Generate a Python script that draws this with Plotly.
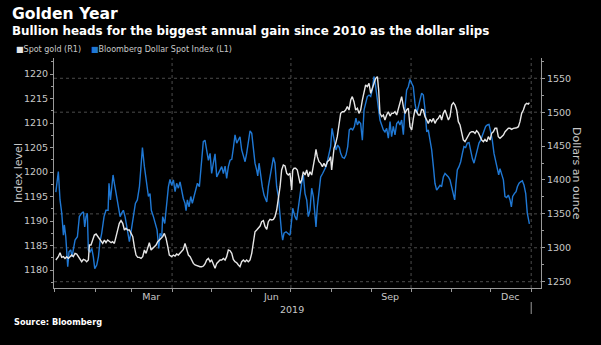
import pandas as pd
import plotly.graph_objects as go

BASE = pd.Timestamp("2019-01-01")

# Bloomberg Dollar Spot Index (left axis): days since 1 Jan 2019, index level
dxy_days = [1, 2.9, 4.2, 5.5, 6.8, 7.5, 8.6, 9.3, 10.1, 11.1, 12.4, 13.4, 14.4, 15.7, 17.5, 19.0,
            20.8, 22.1, 23.1, 24.1, 25.1, 25.9, 27.2, 28.5, 29.7, 30.8, 32.3, 33.6, 34.8, 36.1,
            37.9, 39.4, 41.0, 41.7, 42.8, 43.8, 44.8, 45.8, 47.1, 48.4, 50.2, 51.4, 52.7, 54.0,
            55.8, 57.3, 58.8, 60.4, 61.9, 63.4, 65.0, 66.0, 67.3, 68.8, 70.6, 71.9, 73.1, 74.1,
            75.7, 77.0, 78.5, 79.8, 80.8, 82.1, 82.8, 84.4, 85.9, 87.2, 88.4, 89.7, 91.0, 92.3,
            93.5, 94.8, 96.1, 97.4, 98.6, 99.9, 100.7, 101.7, 103.0, 104.3, 105.5, 106.8, 108.3,
            109.4, 110.9, 112.2, 113.9, 115.2, 116.5, 117.8, 119.1, 120.3, 121.6, 122.9, 124.2,
            125.4, 126.7, 128.0, 129.3, 130.6, 131.8, 133.1, 134.4, 135.7, 136.9, 138.2, 139.5,
            140.8, 142.0, 143.3, 144.6, 145.9, 147.1, 148.4, 149.7, 151.0, 152.2, 153.5, 154.8,
            155.6, 156.6, 157.9, 159.1, 160.4, 161.7, 162.5, 163.7, 165.0, 166.3, 167.6, 168.8,
            170.1, 171.4, 172.7, 173.9, 174.7, 175.7, 177.3, 179.0, 180.3, 181.6, 182.4, 183.4,
            184.1, 185.4, 186.7, 188.0, 189.2, 190.5, 191.8, 193.1, 194.3, 195.6, 196.9, 198.2,
            199.4, 200.2, 201.2, 202.5, 203.8, 205.3, 206.6, 207.9, 209.1, 210.4, 211.4, 212.5,
            213.5, 214.5, 215.5, 216.8, 218.1, 219.1, 220.4, 221.9, 223.2, 224.5, 225.7, 227.0,
            228.3, 229.6, 230.8, 231.9, 233.1, 234.4, 235.7, 237.0, 238.2, 239.5, 240.8, 242.1,
            243.3, 244.6, 245.6, 246.7, 247.9, 249.2, 250.5, 251.8, 253.0, 254.3, 255.6, 256.9,
            258.1, 259.4, 260.7, 262.0, 263.3, 264.5, 265.8, 267.1, 268.4, 269.6, 270.9, 272.2,
            273.5, 274.7, 276.0, 277.3, 278.6, 279.9, 281.1, 282.4, 283.7, 285.0, 286.2, 287.5,
            288.8, 290.1, 291.3, 292.6, 293.9, 295.2, 296.4, 297.7, 299.0, 300.3, 301.6, 302.8,
            304.1, 305.4, 306.4, 307.4, 308.4, 309.7, 311.0, 312.3, 313.5, 314.8, 316.1, 317.4,
            318.7, 319.9, 321.2, 322.5, 323.8, 325.0, 326.3, 327.6, 328.9, 330.1, 331.4, 332.7,
            334.0, 335.2, 336.5, 337.8, 339.1, 340.1, 341.1, 342.4, 343.7, 344.9, 346.2, 347.5,
            348.8, 349.8, 350.8, 352.1, 353.4, 354.4, 355.7, 356.9, 358.2, 359.5, 360.8, 362.0,
            363.6]
dxy_vals = [1195.9, 1200.1, 1194.3, 1191.6, 1187.1, 1189.2, 1186.8, 1182.7, 1180.7, 1183.7, 1184.1,
            1182.7, 1184.1, 1186.1, 1186.8, 1190.9, 1191.6, 1191.9, 1188.8, 1190.9, 1191.6, 1184.1,
            1183.7, 1184.4, 1182.7, 1180.3, 1181.0, 1182.7, 1185.8, 1187.5, 1190.9, 1192.2, 1192.2,
            1197.7, 1194.3, 1197.3, 1199.4, 1197.7, 1195.6, 1194.3, 1190.9, 1191.6, 1192.2, 1190.9,
            1188.2, 1185.8, 1188.2, 1191.6, 1193.6, 1194.3, 1197.0, 1200.4, 1205.0, 1201.1, 1197.0,
            1195.0, 1195.6, 1192.2, 1190.9, 1189.5, 1188.2, 1184.4, 1187.5, 1186.8, 1190.9, 1189.5,
            1193.6, 1197.0, 1198.5, 1197.3, 1198.4, 1196.0, 1197.7, 1196.7, 1198.0, 1196.0, 1194.6,
            1193.6, 1192.1, 1194.3, 1192.9, 1195.0, 1193.6, 1195.0, 1197.0, 1197.7, 1197.0, 1201.1,
            1206.2, 1206.5, 1204.5, 1202.4, 1203.8, 1199.7, 1201.8, 1203.7, 1199.0, 1199.7, 1200.4,
            1201.1, 1199.7, 1201.2, 1198.7, 1201.1, 1202.4, 1202.6, 1204.8, 1207.6, 1205.9, 1206.5,
            1207.2, 1204.5, 1203.5, 1202.1, 1203.8, 1206.5, 1208.4, 1207.9, 1205.2, 1201.8, 1200.4,
            1199.2, 1201.8, 1199.0, 1197.0, 1195.3, 1194.6, 1193.9, 1197.0, 1199.0, 1201.4, 1203.0,
            1201.8, 1197.0, 1195.0, 1190.2, 1187.5, 1186.1, 1187.5, 1187.8, 1187.5, 1187.1, 1190.2,
            1192.6, 1191.6, 1190.9, 1190.2, 1192.9, 1195.6, 1197.7, 1199.4, 1195.6, 1194.3, 1190.9,
            1192.2, 1196.7, 1195.0, 1191.6, 1188.8, 1192.9, 1195.6, 1199.0, 1199.7, 1200.4, 1201.1,
            1202.4, 1203.8, 1205.2, 1208.9, 1207.2, 1205.9, 1204.5, 1205.5, 1205.0, 1203.8, 1203.0,
            1202.8, 1203.5, 1205.2, 1208.6, 1208.9, 1208.6, 1209.3, 1211.0, 1209.6, 1210.3, 1209.9,
            1206.5, 1212.7, 1214.0, 1215.4, 1215.7, 1215.4, 1216.7, 1219.5, 1218.1, 1215.7, 1212.7,
            1210.6, 1209.6, 1208.6, 1208.2, 1208.9, 1206.9, 1210.3, 1207.2, 1209.3, 1207.6, 1209.9,
            1210.3, 1209.6, 1210.6, 1207.6, 1213.3, 1216.7, 1217.4, 1218.9, 1218.1, 1217.4, 1214.0,
            1212.0, 1213.3, 1214.7, 1216.1, 1215.7, 1212.7, 1208.2, 1208.6, 1206.5, 1204.5, 1201.1,
            1197.7, 1196.3, 1196.7, 1197.3, 1197.0, 1199.0, 1199.7, 1199.4, 1199.0, 1198.4, 1197.0,
            1195.6, 1194.3, 1197.7, 1200.4, 1201.1, 1202.1, 1203.8, 1205.2, 1205.0, 1205.9, 1206.0,
            1204.1, 1202.8, 1201.8, 1203.1, 1204.5, 1205.9, 1206.5, 1207.6, 1208.2, 1209.3, 1209.6,
            1209.7, 1208.2, 1206.5, 1203.8, 1202.4, 1200.7, 1199.4, 1200.7, 1199.4, 1198.4, 1195.0,
            1194.8, 1195.3, 1194.3, 1192.9, 1195.0, 1195.6, 1196.0, 1197.0, 1197.7, 1198.0, 1198.2,
            1197.3, 1195.6, 1191.6, 1189.4]

# Spot gold (right axis): days since 1 Jan 2019, dollars an ounce
gold_days = [1, 2.9, 4.2, 5.5, 6.8, 8.0, 9.3, 10.6, 11.9, 13.1, 14.4, 15.7, 17.0, 18.3, 19.5, 20.8,
             22.1, 23.4, 24.6, 25.9, 26.7, 27.9, 29.2, 30.5, 31.8, 33.1, 34.3, 35.6, 36.9, 38.2,
             39.4, 40.7, 42.0, 43.3, 44.5, 45.8, 47.1, 48.4, 49.6, 50.9, 52.2, 53.5, 54.7, 56.0,
             57.3, 58.6, 59.9, 61.1, 62.4, 63.7, 65.0, 66.2, 67.5, 68.8, 70.1, 71.3, 72.6, 73.9,
             75.2, 76.4, 77.7, 79.0, 80.3, 81.5, 82.8, 84.1, 85.4, 86.7, 87.9, 89.7, 91.0, 92.3,
             93.5, 94.8, 96.1, 97.4, 98.6, 99.9, 101.2, 102.5, 103.8, 105.0, 106.3, 107.6, 108.9,
             110.1, 111.4, 112.7, 114.0, 115.2, 116.5, 117.8, 119.1, 120.3, 121.6, 122.9, 124.2,
             125.4, 126.7, 128.0, 129.3, 130.6, 131.8, 133.1, 134.4, 135.7, 136.9, 138.2, 139.5,
             140.8, 142.0, 143.3, 144.6, 145.9, 147.1, 148.4, 149.7, 151.0, 152.2, 153.5, 154.8,
             156.1, 157.4, 158.6, 159.9, 161.2, 162.5, 163.7, 165.0, 166.3, 167.6, 168.8, 170.1,
             171.4, 172.7, 173.9, 175.2, 176.5, 177.8, 179.0, 180.3, 181.6, 182.4, 183.4, 184.6,
             185.9, 186.9, 188.0, 189.2, 190.5, 191.8, 193.1, 194.3, 195.6, 196.9, 198.2, 199.4,
             200.2, 201.2, 202.5, 203.8, 205.1, 206.3, 207.6, 208.9, 210.4, 211.4, 212.2, 213.0,
             214.0, 215.3, 216.5, 217.8, 219.1, 220.4, 221.6, 222.9, 224.2, 225.5, 226.8, 228.0,
             229.3, 230.6, 231.9, 233.1, 234.4, 235.7, 237.0, 238.2, 239.5, 240.8, 242.1, 243.3,
             244.6, 245.9, 247.2, 248.2, 249.2, 250.5, 251.8, 253.0, 254.3, 255.6, 256.9, 258.1,
             259.4, 260.7, 262.0, 263.3, 264.5, 265.8, 267.1, 268.4, 269.6, 270.9, 272.2, 273.5,
             274.7, 276.0, 277.3, 278.6, 279.9, 281.1, 282.4, 283.7, 285.0, 286.2, 287.5, 288.8,
             290.1, 291.3, 292.6, 293.9, 295.2, 296.4, 297.7, 299.0, 300.3, 301.6, 302.8, 304.1,
             305.4, 306.7, 307.9, 309.2, 310.5, 311.8, 313.0, 314.3, 315.6, 316.9, 318.1, 319.4,
             320.7, 322.0, 323.2, 324.5, 325.8, 327.1, 328.4, 329.6, 330.9, 332.2, 333.5, 334.7,
             336.0, 337.3, 338.6, 339.8, 341.1, 342.4, 343.7, 345.0, 346.2, 347.5, 348.8, 350.0,
             351.3, 352.6, 353.9, 355.2, 356.4, 357.7, 359.0, 360.3, 361.5, 362.8, 363.6]
gold_vals = [1282.0, 1286.9, 1292.8, 1285.9, 1286.9, 1284.4, 1286.9, 1284.4, 1286.9, 1289.3, 1286.9,
             1291.8, 1290.8, 1286.9, 1282.0, 1279.5, 1282.9, 1282.0, 1279.5, 1282.0, 1304.1, 1304.1,
             1311.5, 1318.8, 1320.3, 1316.4, 1312.4, 1309.0, 1306.5, 1311.5, 1307.5, 1311.5, 1309.0,
             1307.5, 1309.0, 1306.5, 1316.4, 1326.2, 1336.0, 1340.0, 1336.0, 1326.2, 1328.7, 1326.2,
             1326.2, 1321.3, 1316.4, 1301.6, 1289.3, 1285.9, 1285.9, 1284.4, 1286.9, 1296.7, 1291.8,
             1299.2, 1307.5, 1296.7, 1299.2, 1301.6, 1304.1, 1309.0, 1311.5, 1312.4, 1316.4, 1321.3,
             1313.9, 1301.6, 1289.3, 1286.9, 1289.3, 1287.9, 1290.8, 1289.3, 1291.8, 1294.2, 1297.7,
             1306.5, 1299.2, 1289.3, 1286.9, 1282.0, 1277.0, 1274.6, 1273.6, 1273.1, 1272.1, 1272.1,
             1273.1, 1276.1, 1282.0, 1284.4, 1279.5, 1282.0, 1277.0, 1269.7, 1277.0, 1279.5, 1282.0,
             1282.0, 1284.4, 1282.0, 1286.9, 1296.7, 1295.7, 1291.8, 1282.9, 1279.5, 1278.0, 1274.6,
             1272.1, 1279.5, 1282.0, 1279.5, 1282.0, 1279.5, 1282.0, 1291.8, 1306.5, 1323.7, 1326.2,
             1328.7, 1332.1, 1338.5, 1340.0, 1331.1, 1327.2, 1338.5, 1341.9, 1341.0, 1341.9, 1345.9,
             1355.7, 1372.9, 1390.1, 1414.7, 1422.1, 1420.6, 1409.8, 1407.3, 1409.8, 1385.2, 1414.7,
             1417.2, 1417.2, 1414.7, 1404.9, 1395.0, 1400.0, 1412.2, 1407.3, 1414.7, 1404.9, 1412.2,
             1407.3, 1419.6, 1434.4, 1445.2, 1434.4, 1427.0, 1424.5, 1419.6, 1424.5, 1419.6, 1427.0,
             1429.4, 1434.4, 1414.7, 1429.4, 1446.7, 1454.0, 1463.9, 1481.1, 1498.3, 1500.7, 1500.7,
             1503.2, 1508.1, 1503.2, 1517.9, 1522.9, 1515.5, 1503.2, 1505.7, 1498.3, 1503.2, 1517.9,
             1527.8, 1540.1, 1537.6, 1542.5, 1527.8, 1535.2, 1542.5, 1549.9, 1552.4, 1532.7, 1498.3,
             1493.4, 1495.8, 1488.5, 1495.8, 1500.7, 1494.3, 1498.3, 1498.3, 1500.7, 1495.8, 1505.7,
             1515.5, 1522.9, 1508.1, 1498.3, 1503.2, 1505.7, 1478.6, 1473.7, 1490.0, 1504.2, 1500.7,
             1495.8, 1495.8, 1504.2, 1503.2, 1493.4, 1488.5, 1483.5, 1489.4, 1486.0, 1490.9, 1483.5,
             1488.5, 1490.9, 1495.8, 1488.5, 1498.3, 1503.2, 1495.8, 1488.5, 1493.4, 1510.6, 1514.0,
             1510.6, 1503.2, 1486.0, 1481.1, 1468.8, 1459.0, 1456.5, 1461.4, 1466.3, 1469.8, 1471.2,
             1471.2, 1468.8, 1472.7, 1469.8, 1463.9, 1459.0, 1456.5, 1459.9, 1456.5, 1463.9, 1459.0,
             1468.8, 1471.2, 1476.2, 1476.2, 1463.9, 1461.4, 1463.9, 1466.3, 1471.2, 1473.7, 1476.2,
             1476.2, 1474.7, 1476.2, 1476.2, 1477.1, 1478.6, 1486.0, 1498.3, 1503.2, 1510.6, 1513.0,
             1512.0, 1514.0]

left_ticks = [1180, 1185, 1190, 1195, 1200, 1205, 1210, 1215, 1220]
right_ticks = [1250, 1300, 1350, 1400, 1450, 1500, 1550]
right_grid = [1250, 1300, 1350, 1500, 1550]
month_labels = ["Mar", "Jun", "Sep", "Dec"]
month_label_dates = ["2019-03-16", "2019-06-16", "2019-09-15", "2019-12-16"]
month_starts = pd.date_range("2019-01-01", "2020-01-01", freq="MS")
quarter_starts = ["2019-04-01", "2019-07-01", "2019-10-01", "2020-01-01"]

GOLD_COLOR = "#e6e6e6"
DXY_COLOR = "#1f78d4"
TEXT = "#c8c8c8"
AXIS = "#9a9a9a"
GRID = "#4c4c4c"
FONT = "DejaVu Sans"

# plot-area geometry in pixels, used to place free text around it
W, H = 601, 345
L, R, T, B = 54, 541, 58, 288


def px(x):
    return (x - L) / (R - L)


def py(y):
    return (B - y) / (B - T)


def to_dates(days):
    return BASE + pd.to_timedelta(days, unit="D")


fig = go.Figure()
fig.add_trace(go.Scatter(x=to_dates(dxy_days), y=dxy_vals, mode="lines",
                         line=dict(color=DXY_COLOR, width=1.4), yaxis="y",
                         name="Bloomberg Dollar Spot Index (L1)", showlegend=False))
fig.add_trace(go.Scatter(x=to_dates(gold_days), y=gold_vals, mode="lines",
                         line=dict(color=GOLD_COLOR, width=1.4), yaxis="y2",
                         name="Spot gold (R1)", showlegend=False))

shapes = []
for v in right_grid:
    shapes.append(dict(type="line", xref="paper", x0=0, x1=1, yref="y2", y0=v, y1=v,
                       line=dict(color=GRID, width=1, dash="dot"), layer="below"))
for d in quarter_starts:
    shapes.append(dict(type="line", xref="x", x0=d, x1=d, yref="paper", y0=0, y1=1,
                       line=dict(color=GRID, width=1, dash="dot"), layer="below"))
# year separator below the axis
shapes.append(dict(type="line", xref="x", x0="2020-01-01", x1="2020-01-01", yref="paper",
                   y0=py(302), y1=py(314), line=dict(color=AXIS, width=1)))

annotations = [
    dict(text="<b>Golden Year</b>", x=px(10), y=py(14), xref="paper", yref="paper",
         xanchor="left", yanchor="middle", showarrow=False,
         font=dict(family=FONT, size=15.6, color="#ffffff")),
    dict(text="<b>Bullion heads for the biggest annual gain since 2010 as the dollar slips</b>",
         x=px(10), y=py(31), xref="paper", yref="paper", xanchor="left", yanchor="middle",
         showarrow=False, font=dict(family=FONT, size=11.9, color="#ffffff")),
    dict(text=f"<span style='color:{GOLD_COLOR}'>■</span>Spot gold (R1)", x=px(14), y=py(50),
         xref="paper", yref="paper", xanchor="left", yanchor="middle", showarrow=False,
         font=dict(family=FONT, size=8, color=TEXT)),
    dict(text=f"<span style='color:{DXY_COLOR}'>■</span>Bloomberg Dollar Spot Index (L1)",
         x=px(89), y=py(50), xref="paper", yref="paper", xanchor="left", yanchor="middle",
         showarrow=False, font=dict(family=FONT, size=8, color=TEXT)),
    dict(text="Index level", x=px(18), y=py(173), xref="paper", yref="paper",
         xanchor="center", yanchor="middle", textangle=-90, showarrow=False,
         font=dict(family=FONT, size=11, color=TEXT)),
    dict(text="Dollars an ounce", x=px(577), y=py(173), xref="paper", yref="paper",
         xanchor="center", yanchor="middle", textangle=90, showarrow=False,
         font=dict(family=FONT, size=11, color=TEXT)),
    dict(text="2019", x="2019-07-02", y=py(309), xref="x", yref="paper",
         xanchor="center", yanchor="middle", showarrow=False,
         font=dict(family=FONT, size=9.5, color=TEXT)),
    dict(text="<b>Source: Bloomberg</b>", x=px(12), y=py(322), xref="paper", yref="paper",
         xanchor="left", yanchor="middle", showarrow=False,
         font=dict(family=FONT, size=8.2, color="#ffffff")),
]

fig.update_layout(
    width=W, height=H, autosize=False,
    margin=dict(l=L, r=W - R, t=T, b=H - B, pad=0),
    paper_bgcolor="#000000", plot_bgcolor="#000000",
    showlegend=False,
    font=dict(family=FONT, size=9.5, color=TEXT),
    xaxis=dict(
        type="date",
        range=[BASE - pd.Timedelta(hours=10), BASE + pd.Timedelta(days=372.5)],
        tickvals=month_label_dates, ticktext=month_labels,
        ticks="", showgrid=False, zeroline=False,
        showline=True, linecolor=AXIS, linewidth=1,
        tickfont=dict(family=FONT, size=9.5, color=TEXT),
        minor=dict(tickvals=list(month_starts), ticks="outside", ticklen=3,
                   tickcolor=AXIS, showgrid=False),
    ),
    yaxis=dict(
        range=[1176.33, 1223.27], tickvals=left_ticks,
        ticks="outside", ticklen=3, tickcolor=AXIS,
        showgrid=False, zeroline=False, showline=True, linecolor=AXIS, linewidth=1,
        tickfont=dict(family=FONT, size=9.5, color=TEXT),
        minor=dict(dtick=2.5, tick0=1180, ticks="outside", ticklen=2, tickcolor=AXIS,
                   showgrid=False),
    ),
    yaxis2=dict(
        range=[1240.7, 1579.9], tickvals=right_ticks, overlaying="y", side="right",
        ticks="outside", ticklen=3, tickcolor=AXIS,
        showgrid=False, zeroline=False, showline=True, linecolor=AXIS, linewidth=1,
        tickfont=dict(family=FONT, size=9.5, color=TEXT),
        minor=dict(dtick=25, tick0=1250, ticks="outside", ticklen=2, tickcolor=AXIS,
                   showgrid=False),
    ),
    shapes=shapes,
    annotations=annotations,
)

fig.write_html("out.html")
